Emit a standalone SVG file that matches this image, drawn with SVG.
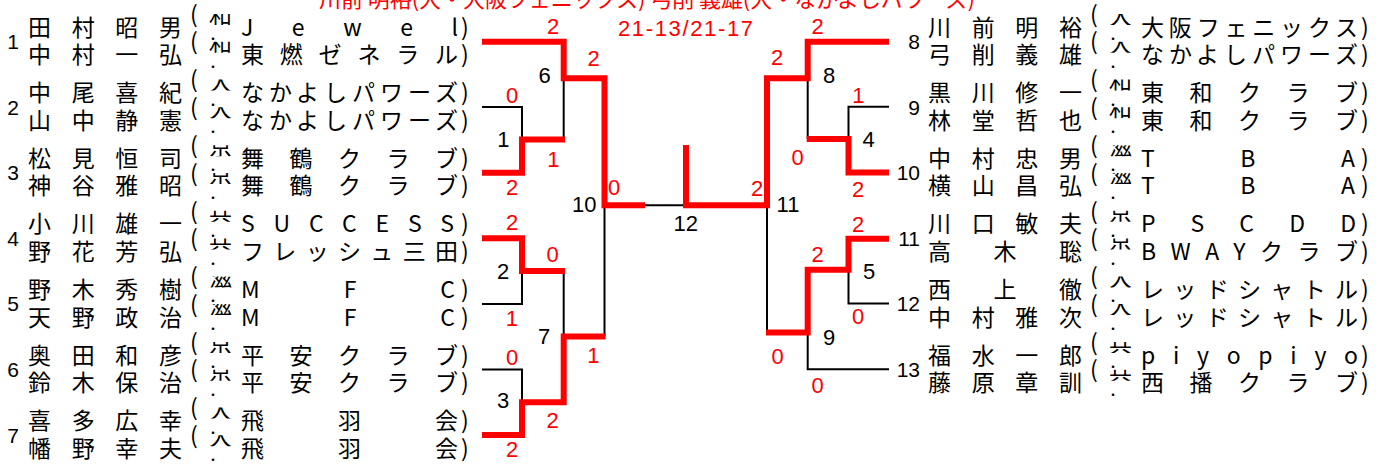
<svg xmlns="http://www.w3.org/2000/svg" width="1384" height="466" viewBox="0 0 1384 466">
<style>
.j{font-family:"Noto Sans CJK JP","Noto Sans CJK SC",sans-serif;font-size:23px;fill:#000}
.f{font-family:"Noto Sans CJK JP","Noto Sans CJK SC",sans-serif;font-size:23px;fill:#000}
.d{font-family:"Noto Sans CJK JP","Noto Sans CJK SC",sans-serif;font-size:12px;fill:#000;text-anchor:middle}
.en{font-family:"Liberation Sans",Arial,sans-serif;font-size:21px;fill:#000}
.ml{font-family:"Liberation Sans",Arial,sans-serif;font-size:22px;fill:#000;text-anchor:middle}
.sc{font-family:"Liberation Sans",Arial,sans-serif;font-size:22px;fill:#ff0000;text-anchor:middle}
.tt{font-family:"Noto Sans CJK JP","Noto Sans CJK SC",sans-serif;font-size:22px;fill:#ff0000}
.bk{fill:none;stroke:#000;stroke-width:2}
.rd{fill:none;stroke:#ff0000;stroke-width:6;stroke-linejoin:miter}
</style>
<defs>
<clipPath id="band">
<rect x="0" y="14" width="1384" height="11"/>
<rect x="0" y="41.7" width="1384" height="11"/>
<rect x="0" y="79.6" width="1384" height="11"/>
<rect x="0" y="107.3" width="1384" height="11"/>
<rect x="0" y="145.2" width="1384" height="11"/>
<rect x="0" y="172.9" width="1384" height="11"/>
<rect x="0" y="210.8" width="1384" height="11"/>
<rect x="0" y="238.5" width="1384" height="11"/>
<rect x="0" y="276.4" width="1384" height="11"/>
<rect x="0" y="304.1" width="1384" height="11"/>
<rect x="0" y="342" width="1384" height="11"/>
<rect x="0" y="369.7" width="1384" height="11"/>
<rect x="0" y="407.6" width="1384" height="11"/>
<rect x="0" y="435.3" width="1384" height="11"/>
</clipPath>
</defs>
<rect x="0" y="0" width="1384" height="466" fill="#fff"/>

<g id="title">
<text class="tt" x="319" y="7" textLength="656" lengthAdjust="spacing">川前 明裕(大・大阪フェニックス) 弓削 義雄(大・なかよしパワーズ)</text>
<text class="sc" x="618" y="36" style="text-anchor:start" textLength="135" lengthAdjust="spacing">21-13/21-17</text>
</g>

<g id="connectors">
<path class="bk" d="M482,107.1 H522 V139.5"/>
<path class="bk" d="M563.7,78.3 V139.5"/>
<path class="bk" d="M482,303.9 H522 V271"/>
<path class="bk" d="M563.7,271 V336.5"/>
<path class="bk" d="M482,369.5 H522 V402.3"/>
<path class="bk" d="M604.5,205.2 V336.5"/>
<path class="bk" d="M645,205.2 H686"/>
<path class="bk" d="M889,106.8 H848.5 V139"/>
<path class="bk" d="M807.7,78.3 V139"/>
<path class="bk" d="M889,303.5 H848.5 V269.7"/>
<path class="bk" d="M889,369.3 H807.7 V332.5"/>
<path class="bk" d="M767,205.2 V332.5"/>
<path class="rd" d="M482,41.7 H563.7 V78.3 H604.5 V205.2 H645"/>
<path class="rd" d="M482,172.7 H522 V139.5 H565"/>
<path class="rd" d="M482,238.3 H522 V271 H565"/>
<path class="rd" d="M482,435.1 H522 V402.3 H563.7 V336.5 H605.5"/>
<path class="rd" d="M686,145 V205.2 H767 V78.3 H807.7 V41.7 H889"/>
<path class="rd" d="M889,172.4 H848.5 V139 H806.7"/>
<path class="rd" d="M889,238.8 H848.5 V269.7 H807.7 V332.5 H766"/>
</g>

<g id="matches">
<text class="ml" x="503.3" y="147.4">1</text>
<text class="ml" x="503" y="279.4">2</text>
<text class="ml" x="503" y="408">3</text>
<text class="ml" x="868.5" y="147">4</text>
<text class="ml" x="869" y="279.4">5</text>
<text class="ml" x="544.5" y="83">6</text>
<text class="ml" x="544" y="344.4">7</text>
<text class="ml" x="829" y="83">8</text>
<text class="ml" x="829" y="345">9</text>
<text class="ml" x="584.2" y="212">10</text>
<text class="ml" x="788" y="212">11</text>
<text class="ml" x="685.7" y="231">12</text>
</g>

<g id="scores">
<text class="sc" x="553" y="34">2</text>
<text class="sc" x="593.5" y="66">2</text>
<text class="sc" x="512" y="103">0</text>
<text class="sc" x="553.3" y="167.4">1</text>
<text class="sc" x="512" y="195">2</text>
<text class="sc" x="614" y="195">0</text>
<text class="sc" x="512" y="230.4">2</text>
<text class="sc" x="552.5" y="262.4">0</text>
<text class="sc" x="511.8" y="326.4">1</text>
<text class="sc" x="593.3" y="363.4">1</text>
<text class="sc" x="512" y="365.4">0</text>
<text class="sc" x="552.5" y="428">2</text>
<text class="sc" x="512" y="457.4">2</text>
<text class="sc" x="817.5" y="34">2</text>
<text class="sc" x="777" y="65.4">2</text>
<text class="sc" x="858.3" y="103">1</text>
<text class="sc" x="797.5" y="165.4">0</text>
<text class="sc" x="858" y="197">2</text>
<text class="sc" x="757" y="196">2</text>
<text class="sc" x="858" y="232.4">2</text>
<text class="sc" x="817.5" y="262.4">2</text>
<text class="sc" x="858" y="324.4">0</text>
<text class="sc" x="777.5" y="364.4">0</text>
<text class="sc" x="817.5" y="393">0</text>
</g>

<g id="entry-1">
<text class="en" x="13" y="49" text-anchor="middle">1</text>
<text class="j" x="28" y="35.5" textLength="154" lengthAdjust="spacing">田村昭男</text>
<text class="j" x="28" y="63.2" textLength="154" lengthAdjust="spacing">中村一弘</text>
<text class="j" x="190" y="22.7">(</text><text class="j" x="190" y="50.4">(</text>
<text class="f" x="209" y="24" clip-path="url(#band)">和</text><text class="f" x="209" y="51.7" clip-path="url(#band)">和</text>
<text class="d" x="213" y="44">・</text><text class="d" x="213" y="71.7">・</text>
<text class="j" x="241" y="35.5" textLength="217" lengthAdjust="spacing">Jewel</text>
<text class="j" x="241" y="63.2" textLength="217" lengthAdjust="spacing">東燃ゼネラル</text>
<text class="j" x="461" y="35.5">)</text><text class="j" x="461" y="63.2">)</text>
</g>

<g id="entry-2">
<text class="en" x="13" y="114.6" text-anchor="middle">2</text>
<text class="j" x="28" y="101.1" textLength="154" lengthAdjust="spacing">中尾喜紀</text>
<text class="j" x="28" y="128.8" textLength="154" lengthAdjust="spacing">山中静憲</text>
<text class="j" x="190" y="88.3">(</text><text class="j" x="190" y="116">(</text>
<text class="f" x="209" y="89.6" clip-path="url(#band)">大</text><text class="f" x="209" y="117.3" clip-path="url(#band)">大</text>
<text class="d" x="213" y="109.6">・</text><text class="d" x="213" y="137.3">・</text>
<text class="j" x="241" y="101.1" textLength="217" lengthAdjust="spacing">なかよしパワーズ</text>
<text class="j" x="241" y="128.8" textLength="217" lengthAdjust="spacing">なかよしパワーズ</text>
<text class="j" x="461" y="101.1">)</text><text class="j" x="461" y="128.8">)</text>
</g>

<g id="entry-3">
<text class="en" x="13" y="180.2" text-anchor="middle">3</text>
<text class="j" x="28" y="166.7" textLength="154" lengthAdjust="spacing">松見恒司</text>
<text class="j" x="28" y="194.4" textLength="154" lengthAdjust="spacing">神谷雅昭</text>
<text class="j" x="190" y="153.9">(</text><text class="j" x="190" y="181.6">(</text>
<text class="f" x="209" y="155.2" clip-path="url(#band)">京</text><text class="f" x="209" y="182.9" clip-path="url(#band)">京</text>
<text class="d" x="213" y="175.2">・</text><text class="d" x="213" y="202.9">・</text>
<text class="j" x="241" y="166.7" textLength="217" lengthAdjust="spacing">舞鶴クラブ</text>
<text class="j" x="241" y="194.4" textLength="217" lengthAdjust="spacing">舞鶴クラブ</text>
<text class="j" x="461" y="166.7">)</text><text class="j" x="461" y="194.4">)</text>
</g>

<g id="entry-4">
<text class="en" x="13" y="245.8" text-anchor="middle">4</text>
<text class="j" x="28" y="232.3" textLength="154" lengthAdjust="spacing">小川雄一</text>
<text class="j" x="28" y="260" textLength="154" lengthAdjust="spacing">野花芳弘</text>
<text class="j" x="190" y="219.5">(</text><text class="j" x="190" y="247.2">(</text>
<text class="f" x="209" y="220.8" clip-path="url(#band)">兵</text><text class="f" x="209" y="248.5" clip-path="url(#band)">兵</text>
<text class="d" x="213" y="240.8">・</text><text class="d" x="213" y="268.5">・</text>
<text class="j" x="241" y="232.3" textLength="213" lengthAdjust="spacing">SUCCESS</text>
<text class="j" x="241" y="260" textLength="217" lengthAdjust="spacing">フレッシュ三田</text>
<text class="j" x="461" y="232.3">)</text><text class="j" x="461" y="260">)</text>
</g>

<g id="entry-5">
<text class="en" x="13" y="311.4" text-anchor="middle">5</text>
<text class="j" x="28" y="297.9" textLength="154" lengthAdjust="spacing">野木秀樹</text>
<text class="j" x="28" y="325.6" textLength="154" lengthAdjust="spacing">天野政治</text>
<text class="j" x="190" y="285.1">(</text><text class="j" x="190" y="312.8">(</text>
<text class="f" x="209" y="286.4" clip-path="url(#band)">滋</text><text class="f" x="209" y="314.1" clip-path="url(#band)">滋</text>
<text class="d" x="213" y="306.4">・</text><text class="d" x="213" y="334.1">・</text>
<text class="j" x="241" y="297.9" textLength="214" lengthAdjust="spacing">MFC</text>
<text class="j" x="241" y="325.6" textLength="214" lengthAdjust="spacing">MFC</text>
<text class="j" x="461" y="297.9">)</text><text class="j" x="461" y="325.6">)</text>
</g>

<g id="entry-6">
<text class="en" x="13" y="377" text-anchor="middle">6</text>
<text class="j" x="28" y="363.5" textLength="154" lengthAdjust="spacing">奥田和彦</text>
<text class="j" x="28" y="391.2" textLength="154" lengthAdjust="spacing">鈴木保治</text>
<text class="j" x="190" y="350.7">(</text><text class="j" x="190" y="378.4">(</text>
<text class="f" x="209" y="352" clip-path="url(#band)">京</text><text class="f" x="209" y="379.7" clip-path="url(#band)">京</text>
<text class="d" x="213" y="372">・</text><text class="d" x="213" y="399.7">・</text>
<text class="j" x="241" y="363.5" textLength="217" lengthAdjust="spacing">平安クラブ</text>
<text class="j" x="241" y="391.2" textLength="217" lengthAdjust="spacing">平安クラブ</text>
<text class="j" x="461" y="363.5">)</text><text class="j" x="461" y="391.2">)</text>
</g>

<g id="entry-7">
<text class="en" x="13" y="442.6" text-anchor="middle">7</text>
<text class="j" x="28" y="429.1" textLength="154" lengthAdjust="spacing">喜多広幸</text>
<text class="j" x="28" y="456.8" textLength="154" lengthAdjust="spacing">幡野幸夫</text>
<text class="j" x="190" y="416.3">(</text><text class="j" x="190" y="444">(</text>
<text class="f" x="209" y="417.6" clip-path="url(#band)">大</text><text class="f" x="209" y="445.3" clip-path="url(#band)">大</text>
<text class="d" x="213" y="437.6">・</text><text class="d" x="213" y="465.3">・</text>
<text class="j" x="241" y="429.1" textLength="217" lengthAdjust="spacing">飛羽会</text>
<text class="j" x="241" y="456.8" textLength="217" lengthAdjust="spacing">飛羽会</text>
<text class="j" x="461" y="429.1">)</text><text class="j" x="461" y="456.8">)</text>
</g>

<g id="entry-8">
<text class="en" x="920" y="49" text-anchor="end">8</text>
<text class="j" x="928" y="35.5" textLength="154" lengthAdjust="spacing">川前明裕</text>
<text class="j" x="928" y="63.2" textLength="154" lengthAdjust="spacing">弓削義雄</text>
<text class="j" x="1090" y="22.7">(</text><text class="j" x="1090" y="50.4">(</text>
<text class="f" x="1109" y="24" clip-path="url(#band)">大</text><text class="f" x="1109" y="51.7" clip-path="url(#band)">大</text>
<text class="d" x="1113" y="44">・</text><text class="d" x="1113" y="71.7">・</text>
<text class="j" x="1141" y="35.5" textLength="217" lengthAdjust="spacing">大阪フェニックス</text>
<text class="j" x="1141" y="63.2" textLength="217" lengthAdjust="spacing">なかよしパワーズ</text>
<text class="j" x="1361" y="35.5">)</text><text class="j" x="1361" y="63.2">)</text>
</g>

<g id="entry-9">
<text class="en" x="920" y="114.6" text-anchor="end">9</text>
<text class="j" x="928" y="101.1" textLength="154" lengthAdjust="spacing">黒川修一</text>
<text class="j" x="928" y="128.8" textLength="154" lengthAdjust="spacing">林堂哲也</text>
<text class="j" x="1090" y="88.3">(</text><text class="j" x="1090" y="116">(</text>
<text class="f" x="1109" y="89.6" clip-path="url(#band)">和</text><text class="f" x="1109" y="117.3" clip-path="url(#band)">和</text>
<text class="d" x="1113" y="109.6">・</text><text class="d" x="1113" y="137.3">・</text>
<text class="j" x="1141" y="101.1" textLength="217" lengthAdjust="spacing">東和クラブ</text>
<text class="j" x="1141" y="128.8" textLength="217" lengthAdjust="spacing">東和クラブ</text>
<text class="j" x="1361" y="101.1">)</text><text class="j" x="1361" y="128.8">)</text>
</g>

<g id="entry-10">
<text class="en" x="920" y="180.2" text-anchor="end">10</text>
<text class="j" x="928" y="166.7" textLength="154" lengthAdjust="spacing">中村忠男</text>
<text class="j" x="928" y="194.4" textLength="154" lengthAdjust="spacing">横山昌弘</text>
<text class="j" x="1090" y="153.9">(</text><text class="j" x="1090" y="181.6">(</text>
<text class="f" x="1109" y="155.2" clip-path="url(#band)">滋</text><text class="f" x="1109" y="182.9" clip-path="url(#band)">滋</text>
<text class="d" x="1113" y="175.2">・</text><text class="d" x="1113" y="202.9">・</text>
<text class="j" x="1141" y="166.7" textLength="214" lengthAdjust="spacing">TBA</text>
<text class="j" x="1141" y="194.4" textLength="214" lengthAdjust="spacing">TBA</text>
<text class="j" x="1361" y="166.7">)</text><text class="j" x="1361" y="194.4">)</text>
</g>

<g id="entry-11">
<text class="en" x="920" y="245.8" text-anchor="end">11</text>
<text class="j" x="928" y="232.3" textLength="154" lengthAdjust="spacing">川口敏夫</text>
<text class="j" x="928" y="260" textLength="154" lengthAdjust="spacing">高木聡</text>
<text class="j" x="1090" y="219.5">(</text><text class="j" x="1090" y="247.2">(</text>
<text class="f" x="1109" y="220.8" clip-path="url(#band)">京</text><text class="f" x="1109" y="248.5" clip-path="url(#band)">京</text>
<text class="d" x="1113" y="240.8">・</text><text class="d" x="1113" y="268.5">・</text>
<text class="j" x="1141" y="232.3" textLength="215" lengthAdjust="spacing">PSCDD</text>
<text class="j" x="1141" y="260" textLength="217" lengthAdjust="spacing">BWAYクラブ</text>
<text class="j" x="1361" y="232.3">)</text><text class="j" x="1361" y="260">)</text>
</g>

<g id="entry-12">
<text class="en" x="920" y="311.4" text-anchor="end">12</text>
<text class="j" x="928" y="297.9" textLength="154" lengthAdjust="spacing">西上徹</text>
<text class="j" x="928" y="325.6" textLength="154" lengthAdjust="spacing">中村雅次</text>
<text class="j" x="1090" y="285.1">(</text><text class="j" x="1090" y="312.8">(</text>
<text class="f" x="1109" y="286.4" clip-path="url(#band)">大</text><text class="f" x="1109" y="314.1" clip-path="url(#band)">大</text>
<text class="d" x="1113" y="306.4">・</text><text class="d" x="1113" y="334.1">・</text>
<text class="j" x="1141" y="297.9" textLength="217" lengthAdjust="spacing">レッドシャトル</text>
<text class="j" x="1141" y="325.6" textLength="217" lengthAdjust="spacing">レッドシャトル</text>
<text class="j" x="1361" y="297.9">)</text><text class="j" x="1361" y="325.6">)</text>
</g>

<g id="entry-13">
<text class="en" x="920" y="377" text-anchor="end">13</text>
<text class="j" x="928" y="363.5" textLength="154" lengthAdjust="spacing">福水一郎</text>
<text class="j" x="928" y="391.2" textLength="154" lengthAdjust="spacing">藤原章訓</text>
<text class="j" x="1090" y="350.7">(</text><text class="j" x="1090" y="378.4">(</text>
<text class="f" x="1109" y="352" clip-path="url(#band)">兵</text><text class="f" x="1109" y="379.7" clip-path="url(#band)">兵</text>
<text class="d" x="1113" y="372">・</text><text class="d" x="1113" y="399.7">・</text>
<text class="j" x="1141" y="363.5" textLength="217" lengthAdjust="spacing">piyopiyo</text>
<text class="j" x="1141" y="391.2" textLength="217" lengthAdjust="spacing">西播クラブ</text>
<text class="j" x="1361" y="363.5">)</text><text class="j" x="1361" y="391.2">)</text>
</g>
</svg>
